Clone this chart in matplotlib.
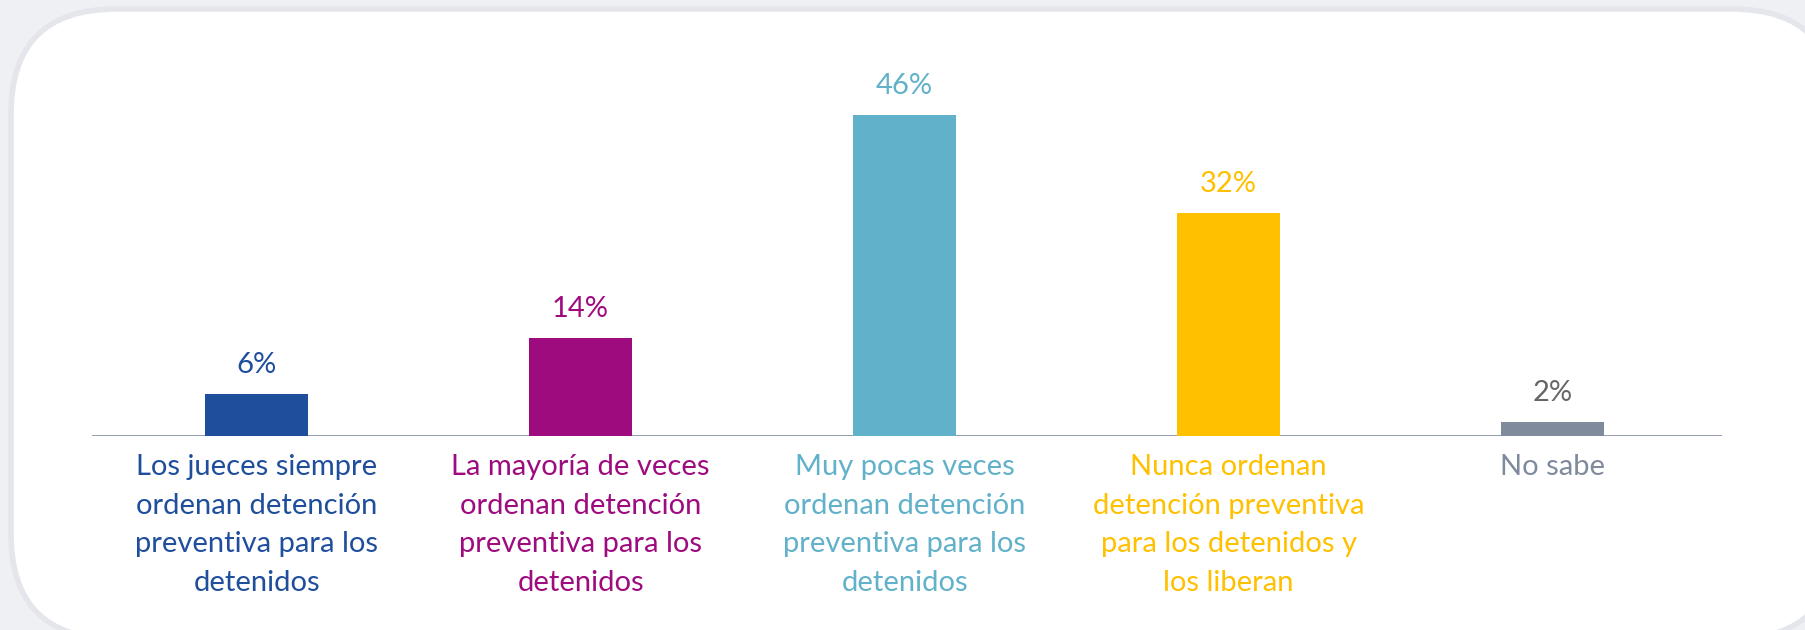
import matplotlib.pyplot as plt
from matplotlib.patches import FancyBboxPatch

# datos
categorias = [
    "Los jueces siempre\nordenan detención\npreventiva para los\ndetenidos",
    "La mayoría de veces\nordenan detención\npreventiva para los\ndetenidos",
    "Muy pocas veces\nordenan detención\npreventiva para los\ndetenidos",
    "Nunca ordenan\ndetención preventiva\npara los detenidos y\nlos liberan",
    "No sabe",
]
valores = [6, 14, 46, 32, 2]
etiquetas = ["6%", "14%", "46%", "32%", "2%"]

colores_barras = ["#1F4E9C", "#9E0B7F", "#60B1C9", "#FFC000", "#7F8A9C"]
colores_valores = ["#1F4E9C", "#9E0B7F", "#60B1C9", "#FFC000", "#666666"]
colores_textos = ["#1F4E9C", "#9E0B7F", "#60B1C9", "#FFC000", "#7F8A9C"]

plt.rcParams['font.family'] = ['Lato', 'DejaVu Sans']

W, H = 1806, 630
fig = plt.figure(figsize=(W / 100, H / 100), dpi=100)
fig.patch.set_facecolor("#EEF0F4")

# fondo con esquinas redondeadas (coordenadas en pixeles)
bg = fig.add_axes([0, 0, 1, 1])
bg.set_xlim(0, W)
bg.set_ylim(H, 0)
bg.axis('off')
bg.add_patch(FancyBboxPatch((11, 9), W + 20, H, boxstyle="round,pad=0,rounding_size=105",
                            facecolor="white", edgecolor="#E4E6EB", linewidth=4))

# grafico de barras
eje_y = 436
alto = 385
ax = fig.add_axes([92 / W, (H - eje_y) / H, 1630 / W, alto / H])
ax.set_facecolor("none")
x = list(range(len(valores)))
ax.bar(x, valores, width=0.318, color=colores_barras, zorder=3)
ax.axhline(0, color="#8C96AA", linewidth=1.3, zorder=2)
ax.set_xlim(-0.508, 4.523)
ax.set_ylim(0, alto / (321 / 46))
ax.axis('off')

for i, v in enumerate(valores):
    ax.annotate(etiquetas[i], xy=(i, v), xytext=(0, 21), textcoords='offset points',
                ha='center', va='center', fontsize=21, color=colores_valores[i])
    ax.annotate(categorias[i], xy=(i, 0), xytext=(0, -13), textcoords='offset points',
                ha='center', va='top', fontsize=21, color=colores_textos[i],
                linespacing=1.6, annotation_clip=False)

fig.savefig("out.png", dpi=100)
